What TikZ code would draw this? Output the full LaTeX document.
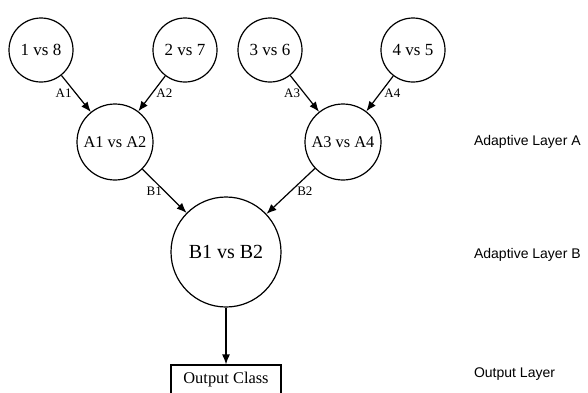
\documentclass[tikz,border=0pt]{standalone}
\usepackage{fontspec}
\setmainfont{Liberation Serif}
\newfontfamily\layerfont{Liberation Sans}
\usetikzlibrary{arrows.meta}
\tikzset{
  pair/.style={circle, draw, line width=0.6pt, inner sep=0pt, minimum size=#1},
  edge/.style={-{Latex[length=5pt,width=4pt]}, line width=0.6pt},
  wlabel/.style={font=\fontsize{6.5}{7}\selectfont, inner sep=2pt},
  layer/.style={anchor=west, font=\layerfont\fontsize{7}{8}\selectfont}
}
\begin{document}
\begin{tikzpicture}[x=0.5pt, y=-0.5pt]
    \useasboundingbox (0,0) rectangle (588,392);
    \clip (0,0) rectangle (588,392);
    \node[pair=32pt, font=\fontsize{8.5}{10}\selectfont] (p18) at (41,50) {1 vs 8};
    \node[pair=32pt, font=\fontsize{8.5}{10}\selectfont] (p27) at (185,50) {2 vs 7};
    \node[pair=32pt, font=\fontsize{8.5}{10}\selectfont] (p36) at (270,50) {3 vs 6};
    \node[pair=32pt, font=\fontsize{8.5}{10}\selectfont] (p45) at (413,50) {4 vs 5};
    \node[pair=38pt, font=\fontsize{8.2}{10}\selectfont] (a12) at (115,142) {A1 vs A2};
    \node[pair=38pt, font=\fontsize{8.2}{10}\selectfont] (a34) at (343,142) {A3 vs A4};
    \node[pair=55pt, font=\fontsize{10}{12}\selectfont] (b12) at (226,252) {B1 vs B2};
    \node[draw, line width=0.6pt, minimum width=55pt, minimum height=15pt, inner sep=0pt,
          font=\fontsize{8.2}{10}\selectfont] (out) at (226,380) {Output Class};
    \draw[edge] (p18) -- node[wlabel, left]{A1} (a12);
    \draw[edge] (p27) -- node[wlabel, right]{A2} (a12);
    \draw[edge] (p36) -- node[wlabel, left]{A3} (a34);
    \draw[edge] (p45) -- node[wlabel, right]{A4} (a34);
    \draw[edge] (a12) -- node[wlabel, left, inner sep=1pt]{B1} (b12);
    \draw[edge] (a34) -- node[wlabel, right, inner sep=3pt]{B2} (b12);
    \draw[edge] (b12) -- (out);
    \node[layer] (la) at (467,142) {Adaptive Layer A};
    \node[layer] (lb) at (467,255) {Adaptive Layer B};
    \node[layer] (lo) at (467,374) {Output Layer};
\end{tikzpicture}
\end{document}
